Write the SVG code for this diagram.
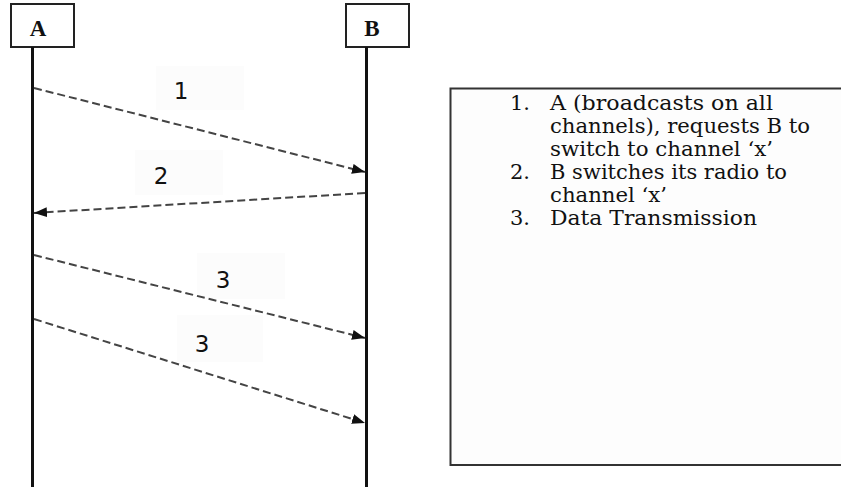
<svg xmlns="http://www.w3.org/2000/svg" width="841" height="487" viewBox="0 0 841 487">
<style>
.hdr{fill:#fff;stroke:#222;stroke-width:2}
.hdrt{font-family:"Liberation Serif",serif;font-weight:bold;font-size:23px;fill:#111;text-anchor:middle}
.life{stroke:#111;stroke-width:3}
.msg{stroke:#444;stroke-width:2;stroke-dasharray:8 4;fill:none}
.lblbg{fill:#fcfcfc}
.lbl{font-family:"DejaVu Sans",sans-serif;font-size:23px;fill:#111;text-anchor:middle}
.leg{font-family:"DejaVu Serif",serif;font-size:21px;fill:#111}
</style>
<defs>
<marker id="ah" markerUnits="userSpaceOnUse" markerWidth="14" markerHeight="12" refX="13" refY="5" orient="auto">
<path d="M0,0 L13,5 L0,10 z" fill="#111"/>
</marker>
</defs>
<rect width="841" height="487" fill="#fff"/>
<g id="A">
<rect class="hdr" x="11" y="4" width="63" height="43"/>
<text class="hdrt" x="38" y="36">A</text>
<line class="life" x1="32.5" y1="47" x2="32.5" y2="487"/>
</g>
<g id="B">
<rect class="hdr" x="346" y="4" width="63" height="43"/>
<text class="hdrt" x="372" y="36">B</text>
<line class="life" x1="366.5" y1="47" x2="366.5" y2="487"/>
</g>
<g id="labels">
<rect class="lblbg" x="156" y="66" width="88" height="44"/>
<rect class="lblbg" x="135" y="150" width="88" height="45"/>
<rect class="lblbg" x="197" y="253" width="88" height="46"/>
<rect class="lblbg" x="177" y="315" width="86" height="47"/>
</g>
<g id="connectors">
<line class="msg" x1="34" y1="88" x2="365" y2="172" marker-end="url(#ah)"/>
<line class="msg" x1="365" y1="193" x2="34" y2="213" marker-end="url(#ah)"/>
<line class="msg" x1="34" y1="255" x2="365" y2="338" marker-end="url(#ah)"/>
<line class="msg" x1="34" y1="319" x2="365" y2="423" marker-end="url(#ah)"/>
</g>
<g id="label-text">
<text class="lbl" x="181" y="99">1</text>
<text class="lbl" x="161" y="184">2</text>
<text class="lbl" x="223" y="288">3</text>
<text class="lbl" x="202" y="352">3</text>
</g>
<g id="legend">
<rect x="450.5" y="88.5" width="400" height="376.5" fill="#fdfdfd" stroke="#333" stroke-width="2"/>
<text class="leg" x="510" y="110">1.</text>
<text class="leg" x="550" y="110" textLength="223" lengthAdjust="spacingAndGlyphs">A (broadcasts on all</text>
<text class="leg" x="550" y="133" textLength="260" lengthAdjust="spacingAndGlyphs">channels), requests B to</text>
<text class="leg" x="550" y="156" textLength="223" lengthAdjust="spacingAndGlyphs">switch to channel ‘x’</text>
<text class="leg" x="510" y="179">2.</text>
<text class="leg" x="550" y="179" textLength="237" lengthAdjust="spacingAndGlyphs">B switches its radio to</text>
<text class="leg" x="550" y="202" textLength="117" lengthAdjust="spacingAndGlyphs">channel ‘x’</text>
<text class="leg" x="510" y="225">3.</text>
<text class="leg" x="550" y="225" textLength="207" lengthAdjust="spacingAndGlyphs">Data Transmission</text>
</g>
</svg>
